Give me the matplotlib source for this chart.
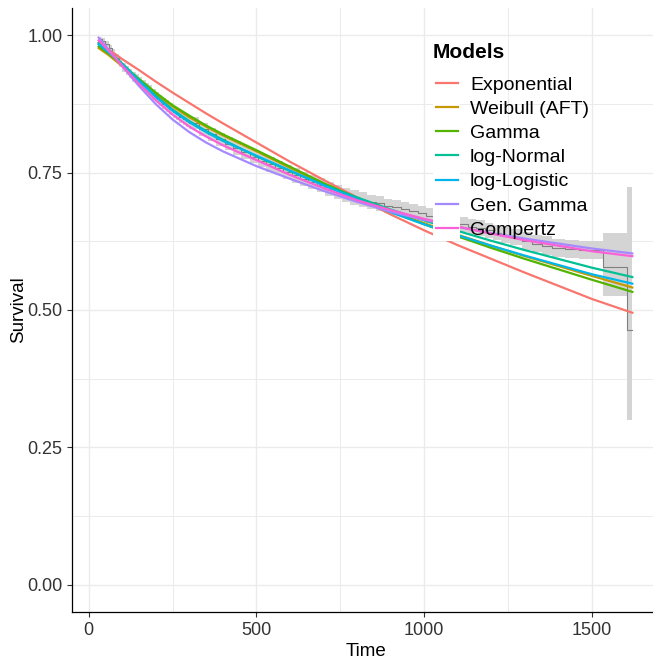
import numpy as np
import matplotlib
matplotlib.use("Agg")
import matplotlib.pyplot as plt
from matplotlib.patches import Rectangle

plt.rcParams["font.family"] = ["Liberation Sans", "DejaVu Sans"]

# Kaplan-Meier estimate (step) with its confidence band
km_time = [30, 40, 50, 60, 70, 80, 90, 100, 110, 120, 130, 140, 150, 160, 170, 180, 190,
           200, 210, 220, 230, 240, 250, 260, 270, 280, 290, 300, 330, 355, 380, 405,
           430, 455, 480, 505, 530, 555, 580, 605, 630, 655, 680, 705, 730, 755, 780,
           805, 830, 855, 880, 905, 930, 955, 980, 1005, 1030, 1055, 1080, 1105, 1130,
           1155, 1180, 1205, 1230, 1255, 1290, 1320, 1350, 1380, 1420, 1460, 1533, 1604,
           1620]
km_surv = [0.994, 0.990, 0.985, 0.977, 0.968, 0.959, 0.950, 0.942, 0.936, 0.930, 0.925,
           0.920, 0.915, 0.910, 0.904, 0.899, 0.893, 0.887, 0.882, 0.876, 0.871, 0.866,
           0.861, 0.857, 0.852, 0.848, 0.844, 0.840, 0.829, 0.820, 0.811, 0.803, 0.795,
           0.787, 0.779, 0.772, 0.765, 0.758, 0.751, 0.745, 0.739, 0.733, 0.727, 0.721,
           0.715, 0.710, 0.705, 0.701, 0.697, 0.694, 0.690, 0.687, 0.684, 0.680, 0.676,
           0.672, 0.668, 0.664, 0.660, 0.656, 0.652, 0.649, 0.645, 0.641, 0.637, 0.633,
           0.626, 0.621, 0.617, 0.613, 0.611, 0.609, 0.578, 0.464, 0.464]
km_lower = [0.990, 0.985, 0.979, 0.971, 0.961, 0.952, 0.943, 0.934, 0.928, 0.922, 0.916,
            0.911, 0.906, 0.901, 0.895, 0.889, 0.883, 0.877, 0.872, 0.866, 0.860, 0.855,
            0.850, 0.846, 0.841, 0.837, 0.833, 0.829, 0.817, 0.808, 0.799, 0.791, 0.783,
            0.775, 0.767, 0.760, 0.752, 0.745, 0.738, 0.732, 0.726, 0.720, 0.714, 0.708,
            0.702, 0.697, 0.692, 0.688, 0.684, 0.681, 0.677, 0.674, 0.671, 0.667, 0.663,
            0.658, 0.654, 0.650, 0.646, 0.642, 0.638, 0.635, 0.631, 0.627, 0.622, 0.618,
            0.610, 0.605, 0.600, 0.596, 0.594, 0.592, 0.525, 0.300, 0.300]
km_upper = [0.998, 0.995, 0.990, 0.983, 0.975, 0.966, 0.957, 0.950, 0.944, 0.938, 0.934,
            0.929, 0.924, 0.919, 0.913, 0.909, 0.903, 0.897, 0.892, 0.886, 0.882, 0.877,
            0.872, 0.868, 0.863, 0.859, 0.855, 0.851, 0.841, 0.832, 0.823, 0.815, 0.807,
            0.799, 0.791, 0.784, 0.778, 0.771, 0.764, 0.758, 0.752, 0.746, 0.740, 0.734,
            0.728, 0.723, 0.718, 0.714, 0.710, 0.707, 0.703, 0.700, 0.697, 0.693, 0.689,
            0.686, 0.682, 0.678, 0.674, 0.670, 0.666, 0.663, 0.659, 0.655, 0.652, 0.648,
            0.642, 0.637, 0.634, 0.630, 0.628, 0.626, 0.640, 0.724, 0.724]

# fitted parametric survival curves
model_time = [30, 60, 100, 150, 200, 250, 300, 350, 400, 500, 600, 700, 800, 900, 1000,
              1100, 1200, 1300, 1400, 1500, 1620]
exponential = [0.987, 0.974, 0.957, 0.937, 0.916, 0.896, 0.877, 0.858, 0.840, 0.805,
               0.770, 0.737, 0.705, 0.674, 0.645, 0.618, 0.593, 0.568, 0.544, 0.520, 0.495]
weibull = [0.977, 0.964, 0.944, 0.918, 0.893, 0.871, 0.851, 0.834, 0.818, 0.789, 0.759,
           0.730, 0.704, 0.680, 0.658, 0.637, 0.617, 0.598, 0.580, 0.562, 0.541]
gamma = [0.980, 0.967, 0.947, 0.921, 0.896, 0.873, 0.854, 0.836, 0.820, 0.791, 0.761,
         0.731, 0.704, 0.679, 0.656, 0.634, 0.613, 0.593, 0.574, 0.555, 0.533]
log_normal = [0.986, 0.971, 0.949, 0.919, 0.890, 0.865, 0.844, 0.826, 0.810, 0.780, 0.753,
              0.728, 0.705, 0.683, 0.663, 0.644, 0.626, 0.609, 0.593, 0.577, 0.560]
log_logistic = [0.984, 0.969, 0.947, 0.917, 0.888, 0.863, 0.842, 0.824, 0.808, 0.781,
                0.754, 0.727, 0.702, 0.678, 0.656, 0.636, 0.617, 0.599, 0.582, 0.565, 0.548]
gen_gamma = [0.996, 0.974, 0.944, 0.908, 0.875, 0.847, 0.824, 0.805, 0.789, 0.762, 0.739,
             0.717, 0.697, 0.679, 0.664, 0.651, 0.640, 0.630, 0.621, 0.612, 0.603]
gompertz = [0.991, 0.972, 0.945, 0.912, 0.882, 0.856, 0.834, 0.816, 0.800, 0.773, 0.746,
            0.722, 0.700, 0.682, 0.666, 0.652, 0.639, 0.627, 0.617, 0.607, 0.598]

model_names = ["Exponential", "Weibull (AFT)", "Gamma", "log-Normal", "log-Logistic",
               "Gen. Gamma", "Gompertz"]
model_curves = [exponential, weibull, gamma, log_normal, log_logistic, gen_gamma, gompertz]
model_colors = ["#F8766D", "#C49A00", "#53B400", "#00C094", "#00B6EB", "#A58AFF", "#FB61D7"]

W, H = 653, 659
fig = plt.figure(figsize=(W / 100, H / 100), dpi=100)
ax = fig.add_axes([72 / W, (H - 612) / H, (659 - 72) / W, (612 - 8) / H])

ax.fill_between(km_time, km_lower, km_upper, step="post", color="#D4D4D4", lw=0, zorder=2)
ax.step(km_time, km_surv, where="post", color="#808080", lw=0.8, zorder=3)

for name, curve, col in zip(model_names, model_curves, model_colors):
    ax.plot(model_time, curve, color=col, lw=1.6, label=name, zorder=3)

ax.set_xlim(-49.5, 1699.5)
ax.set_ylim(-0.05, 1.05)
ax.set_xticks([0, 500, 1000, 1500])
ax.set_xticks([250, 750, 1250], minor=True)
ax.set_yticks([0, 0.25, 0.5, 0.75, 1.0])
ax.set_yticklabels(["0.00", "0.25", "0.50", "0.75", "1.00"])
ax.set_yticks([0.125, 0.375, 0.625, 0.875], minor=True)
ax.grid(which="major", color="#EBEBEB", lw=1.0, zorder=0)
ax.grid(which="minor", color="#EBEBEB", lw=0.7, zorder=0)
ax.set_axisbelow(True)
ax.tick_params(which="major", length=3.5, width=0.8, color="#333333", labelsize=13,
               labelcolor="#333333", pad=3.5)
ax.tick_params(which="minor", length=0)
for s in ["top", "right"]:
    ax.spines[s].set_visible(False)
for s in ["left", "bottom"]:
    ax.spines[s].set_linewidth(0.9)
    ax.spines[s].set_color("black")

ax.set_xlabel("Time", fontsize=13.5, labelpad=3)
ax.set_ylabel("Survival", fontsize=13.5)
ax.yaxis.set_label_coords(-0.076, 0.5)

# legend: white key column like ggplot's legend keys
ax.add_patch(Rectangle((433 / W, 1 - 241 / H), 27 / W, 169 / H, transform=fig.transFigure,
                       facecolor="white", edgecolor="none", zorder=4, clip_on=False))
fig.text(433 / W, 1 - 52 / H, "Models", fontsize=15, fontweight="bold", va="center")
leg = ax.legend(loc="upper left", bbox_to_anchor=(436 / W, 1 - 76 / H),
                bbox_transform=fig.transFigure, frameon=False, fontsize=14,
                handlelength=1.13, handletextpad=0.62, labelspacing=0.34, borderpad=0,
                borderaxespad=0)
leg.set_zorder(5)
for line in leg.get_lines():
    line.set_linewidth(1.6)

fig.savefig("out.png", dpi=100)
